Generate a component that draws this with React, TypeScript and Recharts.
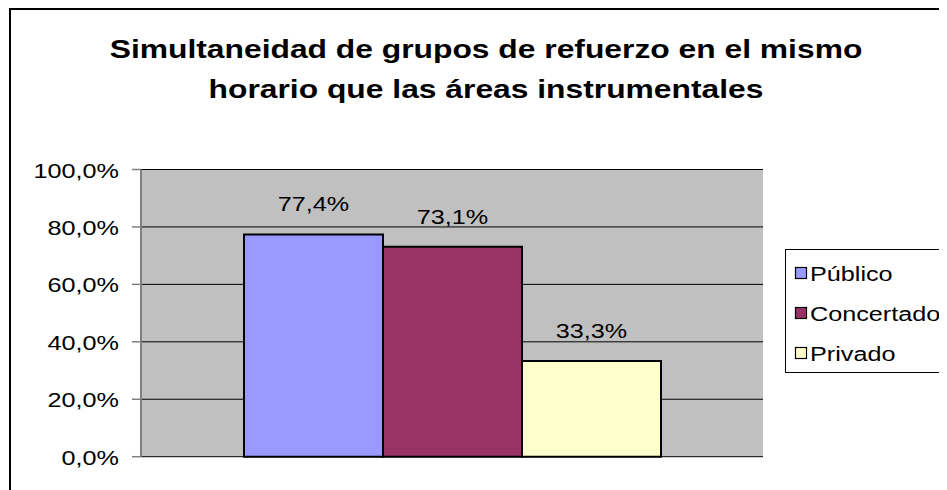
import React from "react";
import {
  BarChart,
  Bar,
  XAxis,
  YAxis,
  CartesianGrid,
  LabelList,
} from "recharts";

const TITLE_LINES = [
  "Simultaneidad de grupos de refuerzo en el mismo",
  "horario que las áreas instrumentales",
];
const CATEGORIES = [""];
const SERIES_NAMES = ["Público", "Concertado", "Privado"];
const SERIES_KEYS = ["publico", "concertado", "privado"];
const SERIES_COLORS = ["#9999FF", "#993366", "#FFFFCC"];
const PUBLICO = [77.4];
const CONCERTADO = [73.1];
const PRIVADO = [33.3];
const Y_TICKS = [0, 20, 40, 60, 80, 100];

const SERIES_VALUES = [PUBLICO, CONCERTADO, PRIVADO];
const data = CATEGORIES.map((name, i) => {
  const row: Record<string, any> = { name };
  SERIES_KEYS.forEach((k, s) => {
    row[k] = SERIES_VALUES[s][i];
  });
  return row;
});

const FONT = "'Liberation Sans', Arial, sans-serif";
const SX = 1.2;

const fmt = (v: number) => v.toFixed(1).replace(".", ",") + "%";

const YTick = (props: any) => {
  const { x, y, payload } = props;
  return (
    <g transform={`translate(${x},${y}) scale(${SX},1)`}>
      <text x={0} y={0} dy={8} textAnchor="end" fontSize={21} fontFamily={FONT} fill="#000">
        {fmt(payload.value)}
      </text>
    </g>
  );
};

const BarLabel = (props: any) => {
  const { x, y, width, value } = props;
  return (
    <g transform={`translate(${x + width / 2},${y - 23}) scale(${SX},1)`}>
      <text x={0} y={0} textAnchor="middle" fontSize={21} fontFamily={FONT} fill="#000">
        {fmt(value)}
      </text>
    </g>
  );
};

export default function App() {
  return (
    <div style={{ position: "relative", width: 939, height: 482, overflow: "hidden", background: "#fff" }}>
      <div
        style={{
          position: "absolute",
          left: 1,
          top: 0,
          width: 1100,
          height: 700,
          border: "2px solid #000",
          boxSizing: "border-box",
        }}
      />
      <div style={{ position: "absolute", left: 0, top: 0 }}>
        <BarChart
          width={939}
          height={482}
          data={data}
          margin={{ top: 161.5, right: 184, bottom: 33.3, left: 0 }}
          barCategoryGap={103}
          barGap={0}
        >
          <CartesianGrid horizontal vertical={false} stroke="#000" strokeWidth={1} fill="#C0C0C0" />
          <XAxis dataKey="name" height={0} tick={false} tickLine={false} axisLine={{ stroke: "#808080", strokeWidth: 2 }} />
          <XAxis xAxisId="top" dataKey="name" orientation="top" height={0} tick={false} tickLine={false} axisLine={{ stroke: "#808080", strokeWidth: 2 }} />
          <YAxis
            width={133}
            domain={[0, 100]}
            ticks={Y_TICKS}
            tick={<YTick />}
            tickSize={9}
            tickMargin={13}
            tickLine={{ stroke: "#808080", strokeWidth: 1.5 }}
            axisLine={{ stroke: "#808080", strokeWidth: 2 }}
            interval={0}
          />
          <YAxis
            yAxisId="r"
            orientation="right"
            width={0}
            domain={[0, 100]}
            ticks={Y_TICKS}
            tick={false}
            tickLine={false}
            axisLine={{ stroke: "#808080", strokeWidth: 2 }}
          />
          {SERIES_KEYS.map((k, i) => (
            <Bar
              key={k}
              dataKey={k}
              name={SERIES_NAMES[i]}
              fill={SERIES_COLORS[i]}
              stroke="#000"
              strokeWidth={2}
              isAnimationActive={false}
            >
              <LabelList dataKey={k} content={<BarLabel />} />
            </Bar>
          ))}
        </BarChart>
      </div>
      <svg
        width={939}
        height={482}
        style={{ position: "absolute", left: 0, top: 0, pointerEvents: "none" }}
      >
        {TITLE_LINES.map((t, i) => (
          <g key={i} transform={`translate(478,${49.5 + i * 40.5}) scale(${SX},1)`}>
            <text x={0} y={0} textAnchor="middle" fontSize={26.5} fontWeight="bold" fontFamily={FONT} fill="#000">
              {t}
            </text>
          </g>
        ))}
        <g transform="translate(777,241)">
          <rect x={0.5} y={0.5} width={300} height={123} fill="#fff" stroke="#000" strokeWidth={1} />
          {SERIES_NAMES.map((n, i) => (
            <g key={n}>
              <rect x={10.5} y={18.5 + i * 40} width={11} height={11} fill={SERIES_COLORS[i]} stroke="#000" strokeWidth={1.2} />
              <g transform={`translate(25,${31.5 + i * 40}) scale(${SX},1)`}>
                <text x={0} y={0} fontSize={21} fontFamily={FONT} fill="#000">
                  {n}
                </text>
              </g>
            </g>
          ))}
        </g>
      </svg>
    </div>
  );
}
